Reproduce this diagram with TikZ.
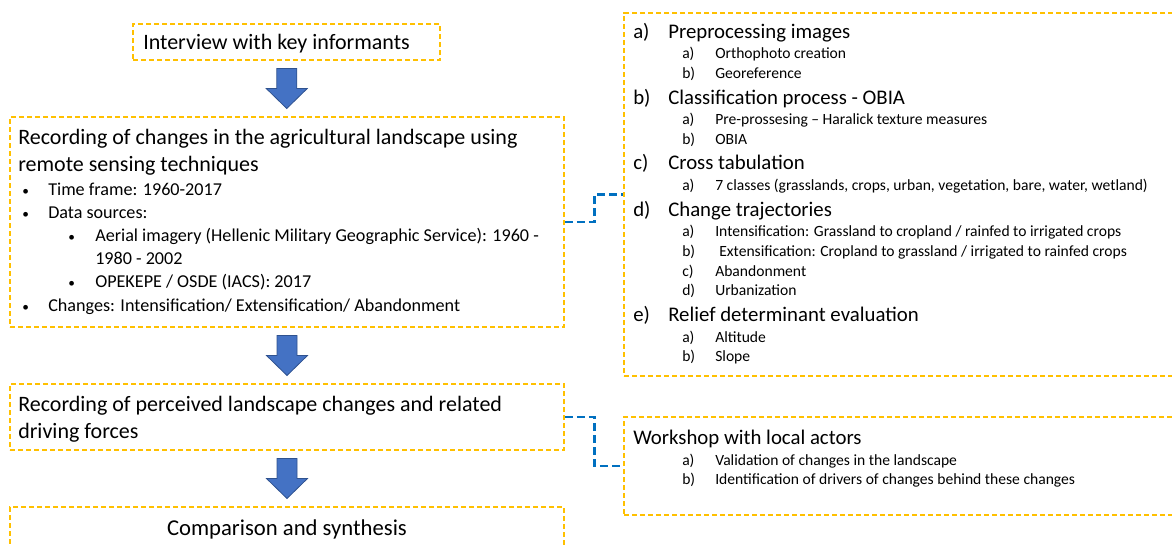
\documentclass[tikz,border=0pt]{standalone}
\usepackage{fontspec}
\setmainfont{Carlito}
\usetikzlibrary{fit,calc}
\definecolor{boxorange}{HTML}{FFC000}
\definecolor{linkblue}{HTML}{0070C0}
\definecolor{arrowblue}{HTML}{4472C4}
\definecolor{arrowedge}{HTML}{2F528F}
\tikzset{
  obox/.style={draw=boxorange, line width=1.2pt, dash pattern=on 4pt off 2pt, inner sep=0pt},
  bluelink/.style={draw=linkblue, line width=2.2pt, dash pattern=on 6pt off 3pt},
  blockarrow/.style={fill=arrowblue, draw=arrowedge, line width=0.6pt},
  bigtxt/.style={anchor=mid west, inner sep=0pt, yshift=-3pt, font=\fontsize{16.5}{20}\selectfont},
  headtxt/.style={anchor=mid west, inner sep=0pt, yshift=-3pt, font=\fontsize{15.6}{19}\selectfont},
  midtxt/.style={anchor=mid west, inner sep=0pt, yshift=-2.2pt, font=\fontsize{13.6}{16}\selectfont},
  subtxt/.style={anchor=mid west, inner sep=0pt, yshift=-1.6pt, font=\fontsize{11.7}{14}\selectfont},
  bul/.style={anchor=mid west, inner sep=0pt, yshift=-2.2pt, font=\fontsize{10}{12}\selectfont},
}
\begin{document}
\begin{tikzpicture}[x=0.75pt, y=-0.75pt]
\useasboundingbox (0,0) rectangle (1172,544);
% boxes
\node[obox, fit={(133,24) (440,60)}] (intv) {};
\node[obox, fit={(10,117) (564,327)}] (remote) {};
\node[obox, fit={(10,384) (564,450)}] (percv) {};
\node[obox, fit={(10,507) (564,575)}] (synth) {};
\node[obox, fit={(624,13) (1185,376)}] (steps) {};
\node[obox, fit={(624,417) (1185,515)}] (wshop) {};
% left column
\node[bigtxt] (intvtxt) at (143,42) {Interview with key informants};
\node[bigtxt] (remA) at (18,137) {Recording of changes in the agricultural landscape using};
\node[bigtxt] (remB) at (18,164) {remote sensing techniques};
\node[bul] (bulA) at (22,189) {\textbullet};
\node[midtxt] (remC) at (48,189) {Time frame: 1960-2017};
\node[bul] (bulB) at (22,212) {\textbullet};
\node[midtxt] (remD) at (48,212) {Data sources:};
\node[bul] (bulC) at (68,235) {\textbullet};
\node[midtxt] (remE) at (95,235) {Aerial imagery (Hellenic Military Geographic Service): 1960 -};
\node[midtxt] (remF) at (95,258) {1980 - 2002};
\node[bul] (bulD) at (68,281) {\textbullet};
\node[midtxt] (remG) at (95,281) {OPEKEPE / OSDE (IACS): 2017};
\node[bul] (bulE) at (22,305) {\textbullet};
\node[midtxt] (remH) at (48,305) {Changes: Intensification/ Extensification/ Abandonment};
\node[bigtxt] (perA) at (18,404) {Recording of perceived landscape changes and related};
\node[bigtxt] (perB) at (18,431) {driving forces};
\node[bigtxt, anchor=mid, font=\fontsize{17}{20}\selectfont] (syntxt) at (287,528) {Comparison and synthesis};
% right column
\node[headtxt] (labA) at (633,31) {a)};
\node[headtxt] (headA) at (668,31) {Preprocessing images};
\node[subtxt] (labAa) at (682,53) {a)};
\node[subtxt] (subAa) at (715,53) {Orthophoto creation};
\node[subtxt] (labAb) at (682,73) {b)};
\node[subtxt] (subAb) at (715,73) {Georeference};
\node[headtxt] (labB) at (633,97) {b)};
\node[headtxt] (headB) at (668,97) {Classification process - OBIA};
\node[subtxt] (labBa) at (682,119) {a)};
\node[subtxt] (subBa) at (715,119) {Pre-prossesing -- Haralick texture measures};
\node[subtxt] (labBb) at (682,139) {b)};
\node[subtxt] (subBb) at (715,139) {OBIA};
\node[headtxt] (labC) at (633,162) {c)};
\node[headtxt] (headC) at (668,162) {Cross tabulation};
\node[subtxt] (labCa) at (682,185) {a)};
\node[subtxt] (subCa) at (715,185) {7 classes (grasslands, crops, urban, vegetation, bare, water, wetland)};
\node[headtxt] (labD) at (633,209) {d)};
\node[headtxt] (headD) at (668,209) {Change trajectories};
\node[subtxt] (labDa) at (682,231) {a)};
\node[subtxt] (subDa) at (715,231) {Intensification: Grassland to cropland / rainfed to irrigated crops};
\node[subtxt] (labDb) at (682,251) {b)};
\node[subtxt] (subDb) at (719,251) {Extensification: Cropland to grassland / irrigated to rainfed crops};
\node[subtxt] (labDc) at (682,271) {c)};
\node[subtxt] (subDc) at (715,271) {Abandonment};
\node[subtxt] (labDd) at (682,290) {d)};
\node[subtxt] (subDd) at (715,290) {Urbanization};
\node[headtxt] (labE) at (633,314) {e)};
\node[headtxt] (headE) at (668,314) {Relief determinant evaluation};
\node[subtxt] (labEa) at (682,337) {a)};
\node[subtxt] (subEa) at (715,337) {Altitude};
\node[subtxt] (labEb) at (682,356) {b)};
\node[subtxt] (subEb) at (715,356) {Slope};
\node[headtxt] (wsA) at (633,437) {Workshop with local actors};
\node[subtxt] (labWa) at (682,460) {a)};
\node[subtxt] (subWa) at (715,460) {Validation of changes in the landscape};
\node[subtxt] (labWb) at (682,479) {b)};
\node[subtxt] (subWb) at (715,479) {Identification of drivers of changes behind these changes};
% block arrows
\foreach \from/\to in {intv/remote, remote/percv, percv/synth}
  \draw[blockarrow] ($(\from.south)!0.5!(\to.north)$) ++(-10,-20) -- ++(20,0) -- ++(0,20)
    -- ++(10.5,0) -- ++(-20.5,20) -- ++(-20.5,-20) -- ++(10.5,0) -- cycle;
% blue links
\draw[bluelink] (remote.east) -- ++(30,0) |- (steps.west);
\draw[bluelink] (percv.east) -- ++(30,0) |- (wshop.west);
\end{tikzpicture}
\end{document}
